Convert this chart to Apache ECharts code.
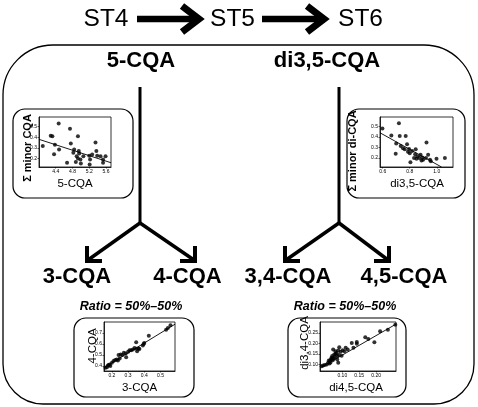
<!DOCTYPE html>
<html>
<head>
<meta charset="utf-8">
<script src="https://cdn.jsdelivr.net/npm/echarts@6/dist/echarts.min.js"></script>
<style>html,body{margin:0;padding:0;background:#fff}#c{width:478px;height:407px}</style>
</head>
<body>
<div id="c"></div>
<script>
// ---- data ----
const cqa5 = [4.09,4.28,4.32,4.38,4.36,4.47,4.48,4.67,4.74,4.76,4.82,4.84,4.90,4.93,4.93,4.95,4.96,4.99,5.00,4.88,5.06,5.20,5.22,5.21,5.27,5.35,5.37,5.39,5.47,5.53,5.53,5.59];
const minorCqa = [0.317,0.414,0.408,0.33,0.24,0.53,0.285,0.16,0.48,0.34,0.254,0.285,0.22,0.20,0.41,0.27,0.247,0.19,0.153,0.168,0.22,0.225,0.19,0.143,0.238,0.35,0.27,0.225,0.22,0.19,0.16,0.22];
const fit1X = [4.0, 5.72], fit1Y = [0.38, 0.16];

const di35 = [0.598,0.72,0.664,0.726,0.77,0.70,0.696,0.733,0.75,0.763,0.78,0.787,0.795,0.80,0.805,0.817,0.832,0.84,0.844,0.85,0.857,0.87,0.88,0.887,0.894,0.899,0.92,0.924,0.936,0.95,0.956,0.998,1.06];
const minorDi = [0.48,0.53,0.415,0.41,0.41,0.338,0.24,0.314,0.292,0.283,0.332,0.261,0.286,0.246,0.16,0.268,0.2,0.237,0.283,0.194,0.216,0.2,0.231,0.176,0.206,0.185,0.2,0.347,0.231,0.185,0.17,0.194,0.2];
const fit2X = [0.58, 1.035], fit2Y = [0.44, 0.115];

const cqa3 = [0.169,0.175,0.186,0.19,0.21,0.22,0.237,0.248,0.241,0.254,0.264,0.274,0.285,0.288,0.309,0.319,0.33,0.34,0.35,0.356,0.354,0.365,0.391,0.40,0.396,0.428,0.535,0.546,0.562,0.16,0.18,0.2,0.23,0.30,0.37];
const cqa4 = [0.39,0.405,0.414,0.40,0.445,0.454,0.45,0.468,0.50,0.505,0.50,0.52,0.513,0.48,0.544,0.544,0.55,0.565,0.616,0.535,0.556,0.56,0.586,0.61,0.60,0.676,0.73,0.745,0.77,0.385,0.41,0.43,0.46,0.53,0.555];
const fit3X = [0.151, 0.59], fit3Y = [0.385, 0.78];

const di45 = [0.039,0.043,0.048,0.054,0.058,0.06,0.063,0.066,0.068,0.07,0.073,0.076,0.078,0.08,0.083,0.085,0.088,0.091,0.088,0.098,0.101,0.106,0.11,0.116,0.128,0.133,0.143,0.143,0.168,0.177,0.195,0.212,0.235,0.257,0.065,0.072,0.075,0.08,0.062,0.07,0.09,0.095,0.085];
const di34 = [0.092,0.095,0.097,0.10,0.108,0.119,0.116,0.124,0.132,0.14,0.171,0.147,0.135,0.163,0.155,0.124,0.166,0.182,0.108,0.142,0.168,0.163,0.179,0.171,0.202,0.179,0.207,0.198,0.229,0.221,0.206,0.258,0.265,0.289,0.11,0.12,0.13,0.15,0.105,0.128,0.145,0.16,0.14];
const fit4X = [0.039, 0.259], fit4Y = [0.088, 0.292];

const xTicks1 = [4.4,4.8,5.2,5.6], yTicks1 = [0.2,0.3,0.4,0.5];
const xTicks2 = [0.6,0.8,1.0], yTicks2 = [0.2,0.3,0.4,0.5];
const xTicks3 = [0.2,0.3,0.4,0.5], yTicks3 = [0.4,0.5,0.6,0.7];
const xTicks4 = [0.10,0.15,0.20], yTicks4 = [0.10,0.15,0.20,0.25];

const stages = ['ST4','ST5','ST6'];
const topLabels = ['5-CQA','di3,5-CQA'];
const bottomLabels = ['3-CQA','4-CQA','3,4-CQA','4,5-CQA'];
const ratioText = 'Ratio = 50%\u201350%';
const xTitles = ['5-CQA','di3,5-CQA','3-CQA','di4,5-CQA'];
const yTitles = ['\u03A3 minor CQA','\u03A3 minor di-CQA','4-CQA','di3,4-CQA'];

// ---- build ----
const FF = '"Liberation Sans", Arial, Helvetica, sans-serif';
const zip = (a,b) => a.map((v,i)=>[v,b[i]]);

function ax(gi, min, max, vals, dec){
  return {type:'value', gridIndex:gi, min, max,
    axisLine:{show:true,onZero:false,lineStyle:{color:'#000',width:0.8}},
    axisTick:{show:true,customValues:vals,length:1.5,lineStyle:{color:'#000',width:0.6}},
    axisLabel:{customValues:vals,fontSize:5,margin:2,color:'#000',fontFamily:FF,formatter:v=>Number(v).toFixed(dec)},
    splitLine:{show:false}};
}
const grids = [
  {left:39, top:117, width:72, height:50},
  {left:380, top:117, width:73, height:50},
  {left:104, top:322, width:71, height:49},
  {left:320, top:322, width:76, height:49}
].map(gr=>Object.assign(gr,{show:true,borderColor:'#000',borderWidth:0.8,backgroundColor:'transparent'}));

const xAxes = [ax(0,4.0,5.72,xTicks1,1), ax(1,0.58,1.12,xTicks2,1), ax(2,0.151,0.59,xTicks3,1), ax(3,0.034,0.259,xTicks4,2)];
const yAxes = [ax(0,0.12,0.59,yTicks1,1), ax(1,0.115,0.59,yTicks2,1), ax(2,0.355,0.80,yTicks3,1), ax(3,0.069,0.302,yTicks4,2)];

const sets = [[cqa5,minorCqa,fit1X,fit1Y],[di35,minorDi,fit2X,fit2Y],[cqa3,cqa4,fit3X,fit3Y],[di45,di34,fit4X,fit4Y]];
const series = [];
sets.forEach((s,i)=>{
  series.push({type:'scatter',xAxisIndex:i,yAxisIndex:i,data:zip(s[0],s[1]),symbolSize:4,itemStyle:{color:'#000'},silent:true,z:3});
  series.push({type:'line',xAxisIndex:i,yAxisIndex:i,data:zip(s[2],s[3]),showSymbol:false,symbol:'none',lineStyle:{color:'#000',width:0.9},silent:true,clip:true,z:2});
});

const g = [];
function text(t,x,y,size,weight,opts){
  g.push(Object.assign({type:'text',x,y,silent:true,z:10,style:{text:t,x:0,y:0,fill:'#000',
    font:(opts&&opts.italic?'italic ':'')+(weight||'normal')+' '+size+'px '+FF,
    textAlign:'center',textVerticalAlign:'middle',align:'center',verticalAlign:'middle'}},
    opts&&opts.rot?{rotation:opts.rot}:{}));
}
function poly(pts,w){
  g.push({type:'polyline',silent:true,z:5,shape:{points:pts},style:{stroke:'#000',lineWidth:w,fill:null,lineJoin:'miter',lineCap:'butt'}});
}
function rrect(x,y,w,h,r,lw){
  g.push({type:'rect',silent:true,z:1,shape:{x,y,width:w,height:h,r},style:{stroke:'#000',fill:null,lineWidth:lw}});
}
// outer box
rrect(3,45,471,359,[50,50,40,40],1.3);
// stage text and arrows
text(stages[0],106,19,24.5);
text(stages[1],232.5,19,24.5);
text(stages[2],360.5,19,24.5);
poly([[137,19],[197,19]],6.5); poly([[182,6],[199,19],[182,32]],7);
poly([[262,19],[322,19]],6.5); poly([[307,6],[324,19],[307,32]],7);
// top compound labels
text(topLabels[0],141,61,22,'bold');
text(topLabels[1],327,61,22,'bold');
// trees
function tree(cx, lx, rx){
  poly([[cx,87],[cx,224]],3);
  poly([[cx,223],[lx+1,260]],3.5);
  poly([[cx,223],[rx-1,260]],3.5);
  poly([[lx,246],[lx,261],[lx+15,261]],4);
  poly([[rx,246],[rx,261],[rx-15,261]],4);
}
tree(140,87,195);
tree(339,285,389);
text(bottomLabels[0],77,277,22,'bold');
text(bottomLabels[1],187.5,277,22,'bold');
text(bottomLabels[2],288,277,22,'bold');
text(bottomLabels[3],404,277,22,'bold');
// insets
rrect(13,109,120,89,12,1.2);
rrect(347,109,118,89,12,1.2);
rrect(74,318,120,79,12,1.2);
rrect(288,318,118,79,12,1.2);
text(ratioText,131,306.5,12.5,'bold',{italic:true});
text(ratioText,345,306.5,12.5,'bold',{italic:true});
// axis titles
text(xTitles[0],75,184,11.5);
text(xTitles[1],417,184,11.5);
text(xTitles[2],139.5,387.5,11.5);
text(xTitles[3],356,387.5,11.5);
text(yTitles[0],28,148,11,'bold',{rot:Math.PI/2});
text(yTitles[1],353,151,11,'bold',{rot:Math.PI/2});
text(yTitles[2],93,346,11.5,'normal',{rot:Math.PI/2});
text(yTitles[3],305,343,11.5,'normal',{rot:Math.PI/2});

const chart = echarts.init(document.getElementById('c'),null,{renderer:'canvas'});
chart.setOption({animation:false,backgroundColor:'#fff',grid:grids,xAxis:xAxes,yAxis:yAxes,series,graphic:g});
</script>
</body>
</html>
